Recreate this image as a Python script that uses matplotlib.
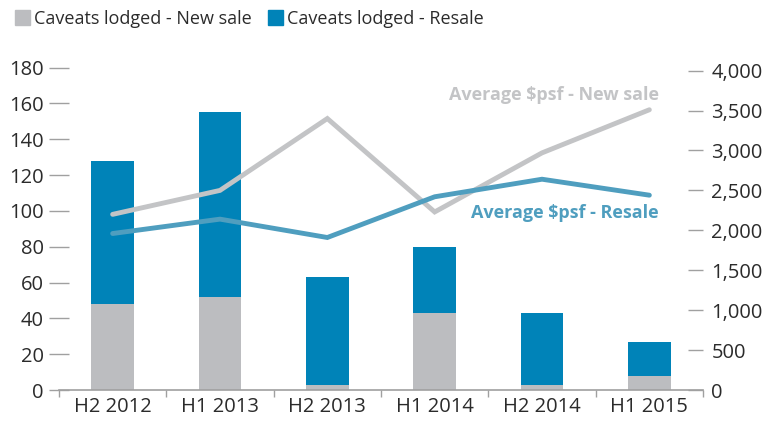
import matplotlib
matplotlib.use('Agg')
import matplotlib.pyplot as plt
from matplotlib.patches import Patch

plt.rcParams['font.family'] = ['Open Sans', 'DejaVu Sans']

periods = ['H2 2012', 'H1 2013', 'H2 2013', 'H1 2014', 'H2 2014', 'H1 2015']
caveats_new = [48, 52, 3, 43, 3, 8]
caveats_resale = [80, 103, 60, 37, 40, 19]
psf_new = [2200, 2500, 3400, 2230, 2970, 3510]
psf_resale = [1960, 2140, 1910, 2420, 2640, 2440]

GREY_BAR = '#bcbdc0'
BLUE_BAR = '#0083b8'
GREY_LINE = '#c3c4c6'
BLUE_LINE = '#4f9ebf'
AXIS = '#a0a0a0'
TXT = '#2b2b2b'

fig = plt.figure(figsize=(7.63, 4.23), dpi=100)
ax = fig.add_axes([0.0773, 0.078, 0.8441, 0.762])
ax2 = ax.twinx()

x = list(range(len(periods)))
ax.bar(x, caveats_new, width=0.4, color=GREY_BAR, zorder=2)
ax.bar(x, caveats_resale, width=0.4, bottom=caveats_new, color=BLUE_BAR, zorder=2)

ax2.plot(x, psf_new, color=GREY_LINE, lw=3.5, solid_capstyle='round', solid_joinstyle='miter')
ax2.plot(x, psf_resale, color=BLUE_LINE, lw=3.5, solid_capstyle='round', solid_joinstyle='miter')

ax2.text(5.09, 3700, 'Average $psf - New sale', color=GREY_LINE, fontsize=13,
         fontweight='bold', ha='right', va='center')
ax2.text(5.09, 2215, 'Average $psf - Resale', color=BLUE_LINE, fontsize=13,
         fontweight='bold', ha='right', va='center')

ax.set_xlim(-0.5, 5.5)
ax.set_ylim(0, 180)
ax2.set_ylim(0, 4037)
ax.set_yticks(range(0, 181, 20))
ax2.set_yticks(range(0, 4001, 500))
ax2.set_yticklabels(['{:,}'.format(v) for v in range(0, 4001, 500)])
ax.set_xticks(x)
ax.set_xticklabels(periods)
ax.set_xticks([i - 0.5 for i in range(len(periods) + 1)], minor=True)

for a in (ax, ax2):
    for s in ('top', 'left', 'right', 'bottom'):
        a.spines[s].set_visible(False)
ax.spines['bottom'].set_visible(True)
ax.spines['bottom'].set_color(AXIS)
ax.spines['bottom'].set_linewidth(1.2)

ax.tick_params(axis='x', which='major', length=0, pad=5, labelsize=14.5, labelcolor=TXT)
ax.tick_params(axis='x', which='minor', length=5, width=1, color=AXIS, direction='out')
ax.tick_params(axis='y', direction='inout', length=14, width=1, color=AXIS, pad=4,
               labelsize=14.5, labelcolor=TXT)
ax2.tick_params(axis='y', direction='in', length=11, width=1, color=AXIS, pad=6,
                labelsize=14.5, labelcolor=TXT)

handles = [Patch(color=GREY_BAR, label='Caveats lodged - New sale'),
           Patch(color=BLUE_BAR, label='Caveats lodged - Resale')]
fig.legend(handles=handles, loc='upper left', bbox_to_anchor=(-0.002, 1.015), ncol=2,
           frameon=False, fontsize=13, handlelength=0.85, handleheight=0.85,
           handletextpad=0.2, columnspacing=0.9, labelcolor=TXT)

fig.savefig('out.png', dpi=100)
